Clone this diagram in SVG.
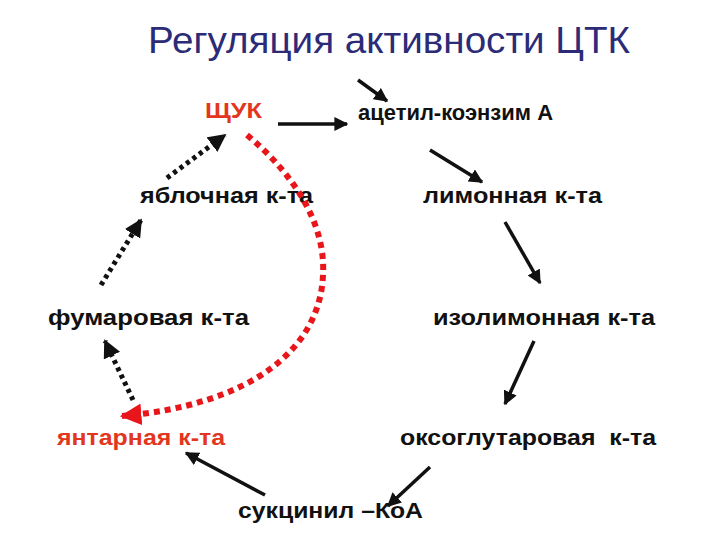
<svg xmlns="http://www.w3.org/2000/svg" width="720" height="540" viewBox="0 0 720 540">
<defs>
<style>
.t{font-family:"Liberation Sans",Arial,sans-serif;font-weight:bold;font-size:22px;fill:#111}
.r{fill:#e2361e}
.title{font-family:"Liberation Sans",Arial,sans-serif;font-size:36px;fill:#2b2b78}
.s{stroke:#111;stroke-width:3.5;fill:none}
.d{stroke:#111;stroke-width:5;fill:none;stroke-dasharray:4 4}
.rd{stroke:#e8161a;stroke-width:6;fill:none;stroke-dasharray:6 5}
</style>
<marker id="ah" viewBox="0 0 10 10" refX="9" refY="5" markerWidth="4" markerHeight="4" orient="auto" markerUnits="strokeWidth">
<path d="M0,0 L10,5 L0,10 z" fill="#111"/>
</marker>
<marker id="ahd" viewBox="0 0 10 10" refX="9" refY="5" markerWidth="3.6" markerHeight="3.6" orient="auto" markerUnits="strokeWidth">
<path d="M0,0 L10,5 L0,10 z" fill="#111"/>
</marker>
<marker id="ahr" viewBox="0 0 10 10" refX="9" refY="5" markerWidth="3.6" markerHeight="3.6" orient="auto" markerUnits="strokeWidth">
<path d="M0,0 L10,5 L0,10 z" fill="#e8161a"/>
</marker>
</defs>
<rect width="720" height="540" fill="#fff"/>
<text class="title" x="148" y="53" textLength="482" lengthAdjust="spacingAndGlyphs">Регуляция активности ЦТК</text>
<g id="nodes">
<g id="n-shuk"><text class="t r" x="205" y="118" textLength="57" lengthAdjust="spacingAndGlyphs">ЩУК</text></g>
<g id="n-acetyl"><text class="t" x="358" y="120" textLength="195" lengthAdjust="spacingAndGlyphs">ацетил-коэнзим А</text></g>
<g id="n-malate"><text class="t" x="140" y="203" textLength="173" lengthAdjust="spacingAndGlyphs">яблочная к-та</text></g>
<g id="n-citrate"><text class="t" x="423" y="203" textLength="179" lengthAdjust="spacingAndGlyphs">лимонная к-та</text></g>
<g id="n-fumarate"><text class="t" x="48" y="325" textLength="201" lengthAdjust="spacingAndGlyphs">фумаровая к-та</text></g>
<g id="n-isocitrate"><text class="t" x="433" y="325" textLength="222" lengthAdjust="spacingAndGlyphs">изолимонная к-та</text></g>
<g id="n-succinate"><text class="t r" x="57" y="445" textLength="168" lengthAdjust="spacingAndGlyphs">янтарная к-та</text></g>
<g id="n-oxoglut"><text class="t" x="400" y="445" textLength="256" lengthAdjust="spacingAndGlyphs" xml:space="preserve">оксоглутаровая  к-та</text></g>
<g id="n-succoa"><text class="t" x="238" y="518" textLength="185" lengthAdjust="spacingAndGlyphs">сукцинил –КоА</text></g>
</g>
<g id="connectors">
<line class="s" x1="278" y1="124" x2="347" y2="124" marker-end="url(#ah)"/>
<line class="s" x1="358" y1="80" x2="387" y2="101" marker-end="url(#ah)"/>
<line class="s" x1="430" y1="150" x2="482" y2="182" marker-end="url(#ah)"/>
<line class="s" x1="505" y1="222" x2="540" y2="283" marker-end="url(#ah)"/>
<line class="s" x1="534" y1="341" x2="505" y2="404" marker-end="url(#ah)"/>
<line class="s" x1="430" y1="467" x2="388" y2="506" marker-end="url(#ah)"/>
<line class="s" x1="265" y1="495" x2="186" y2="453" marker-end="url(#ah)"/>
<line class="d" x1="133" y1="400" x2="105" y2="341" marker-end="url(#ahd)"/>
<line class="d" x1="101" y1="285" x2="141" y2="220" marker-end="url(#ahd)"/>
<line class="d" x1="167" y1="178" x2="225" y2="135" marker-end="url(#ahd)"/>
<path class="rd" d="M247,135 C295,175 326,225 323,275 C320,350 250,405 122,416" marker-end="url(#ahr)"/>
</g>
</svg>
